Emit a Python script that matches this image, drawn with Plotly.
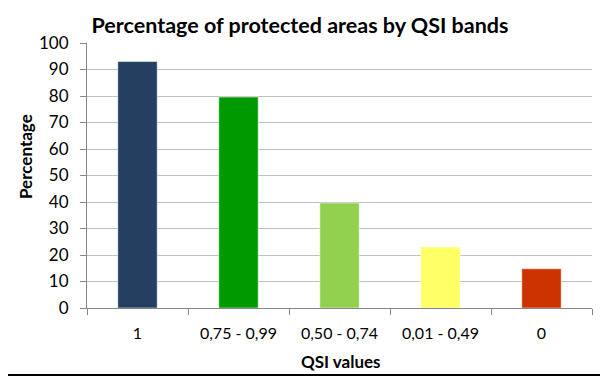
import plotly.graph_objects as go

categories = ["1", "0,75 - 0,99", "0,50 - 0,74", "0,01 - 0,49", "0"]
values = [93, 79.6, 39.6, 23, 14.8]
colors = ["#243F60", "#009900", "#92D050", "#FFFF66", "#CC3300"]

FONT = "Lato"
# page body has an ~8px margin; compensate in figure size/margins
OFF = 8
W, H = 616 - OFF, 383 - OFF
ML, MR, MT, MB = 87 - OFF, 24, 43 - OFF, 75
PW = W - ML - MR
PH = H - MT - MB


def px_x(x):
    return (x - OFF - ML) / PW


def px_y(y):
    return 1 - (y - OFF - MT) / PH


fig = go.Figure(go.Bar(
    x=categories, y=values,
    marker=dict(color=colors, line=dict(color="rgba(255,255,255,0.5)", width=1)),
    width=0.39,
))

fig.update_layout(
    width=W, height=H,
    margin=dict(l=ML, r=MR, t=MT, b=MB, autoexpand=False),
    paper_bgcolor="white", plot_bgcolor="white",
    showlegend=False,
    font=dict(family=FONT, size=16, color="black"),
    title=dict(text="<b>Percentage of protected areas by QSI bands</b>",
               x=(300 - OFF) / W, xanchor="center", y=1 - (25 - OFF) / H, yanchor="middle",
               font=dict(family=FONT, size=21.5, color="black")),
    xaxis=dict(
        showline=True, linecolor="#868686", linewidth=1,
        ticks="outside", ticklen=6, tickcolor="#868686",
        tickson="boundaries",
        showgrid=False,
        ticklabelstandoff=11,
        tickfont=dict(family=FONT, size=16),
    ),
    yaxis=dict(
        range=[0, 100], dtick=10,
        showline=True, linecolor="#868686", linewidth=1,
        ticks="outside", ticklen=6, tickcolor="#868686",
        showgrid=True, gridcolor="#BFBFBF", gridwidth=1,
        zeroline=False,
        ticklabelstandoff=8,
        tickfont=dict(family=FONT, size=17),
    ),
    bargap=0.61,
)

fig.add_annotation(text="<b>Percentage</b>", xref="paper", yref="paper",
                   x=px_x(25), y=px_y(157), xanchor="center", yanchor="middle",
                   textangle=-90, showarrow=False,
                   font=dict(family=FONT, size=17, color="black"))
fig.add_annotation(text="<b>QSI values</b>", xref="paper", yref="paper",
                   x=px_x(341), y=px_y(361), xanchor="center", yanchor="middle",
                   showarrow=False,
                   font=dict(family=FONT, size=17, color="black"))

fig.add_shape(type="line", xref="paper", yref="paper",
              x0=px_x(0), x1=px_x(600), y0=px_y(375), y1=px_y(375),
              line=dict(color="black", width=2))

fig.write_html("out.html")
